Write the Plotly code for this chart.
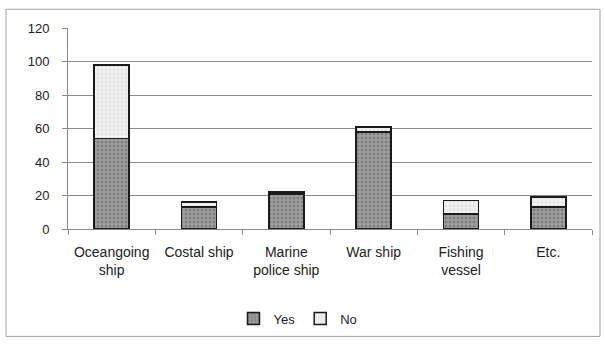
import plotly.graph_objects as go

categories = ["Oceangoing<br>ship", "Costal ship", "Marine<br>police ship", "War ship", "Fishing<br>vessel", "Etc."]
yes_vals = [54, 13, 21, 58, 9, 13]
no_vals = [44, 3, 1, 3, 8, 6]
y_ticks = [0, 20, 40, 60, 80, 100, 120]

L, R, T, B = 68, 13, 28, 114
W, H = 605, 346
pw, ph = W - L - R, H - T - B

def px2x(px):
    return (px - L) / pw

def py2y(py):
    return (H - B - py) / ph

fig = go.Figure()
fig.add_trace(go.Bar(
    x=categories, y=yes_vals, name="Yes",
    marker=dict(color="#a0a0a0", line=dict(color="#1a1a1a", width=1.5),
                pattern=dict(shape=".", fgcolor="#5e5e5e", size=4, solidity=0.45, fillmode="overlay")),
))
fig.add_trace(go.Bar(
    x=categories, y=no_vals, name="No",
    marker=dict(color="#f0f0f0", line=dict(color="#1a1a1a", width=1.5),
                pattern=dict(shape=".", fgcolor="#d6d6d6", size=4, solidity=0.35, fillmode="overlay")),
))

fam = "Liberation Sans, Arial, sans-serif"
yfont = dict(family=fam, size=13, color="#222222")
xfont = dict(family=fam, size=14, color="#222222")

fig.update_layout(
    width=W, height=H, barmode="stack", bargap=0.6,
    margin=dict(l=L, r=R, t=T, b=B),
    paper_bgcolor="white", plot_bgcolor="white",
    font=yfont,
    showlegend=True,
    legend=dict(orientation="h", x=px2x(298), xanchor="center", y=py2y(323), yanchor="middle",
                font=dict(family=fam, size=13, color="#222222"),
                traceorder="normal", itemwidth=30),
    xaxis=dict(showline=True, linecolor="#8a8a8a", linewidth=1, ticks="outside", tickson="boundaries",
               ticklen=5, tickcolor="#8a8a8a", showgrid=False, tickfont=xfont, ticklabelstandoff=10),
    yaxis=dict(range=[0, 120], tickvals=y_ticks, showline=True, linecolor="#8a8a8a", linewidth=1,
               ticks="outside", ticklen=5, tickcolor="#8a8a8a", showgrid=True, gridcolor="#8a8a8a",
               gridwidth=1, zeroline=False, tickfont=yfont, ticklabelstandoff=10),
    shapes=[dict(type="rect", xref="paper", yref="paper",
                 x0=px2x(6), x1=px2x(600), y0=py2y(341), y1=py2y(9),
                 line=dict(color="#a0a0a0", width=1), fillcolor="rgba(0,0,0,0)", layer="below")],
)

fig.write_html("out.html")
